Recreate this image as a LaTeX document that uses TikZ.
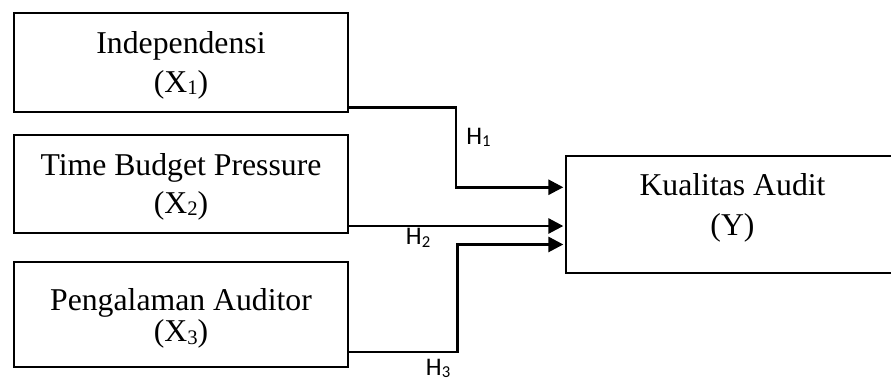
\documentclass[tikz,border=0pt]{standalone}
\usepackage{fontspec}
\setmainfont{Liberation Serif}
\newfontfamily\hfont{Carlito}
\usetikzlibrary{arrows.meta}
\newcommand{\xsub}[1]{\raisebox{-2pt}{\fontsize{15.5pt}{15.5pt}\selectfont #1}}
\newcommand{\hsubs}[1]{\raisebox{-2.2pt}{\fontsize{12.5pt}{12.5pt}\selectfont #1}}
\tikzset{
  box/.style={draw, line width=1.5pt, inner sep=0pt, minimum width=250.3pt},
  openbox/.style={line width=1.5pt},
  lbl/.style={font=\fontsize{23.8pt}{28pt}\selectfont, anchor=base, inner sep=0pt},
  hl/.style={font=\hfont\fontsize{19pt}{22pt}\selectfont, anchor=base west, inner sep=0pt},
  conn/.style={line width=2.1pt, -{Triangle[length=11.25pt,width=11.25pt]}}
}
\begin{document}
\begin{tikzpicture}[x=0.75pt,y=-0.75pt]
\useasboundingbox (0,0) rectangle (891,378);
\clip (0,0) rectangle (891,378);
% boxes
\node[box, minimum height=74.25pt] (b1) at (181,62.5) {};
\node[box, minimum height=73.5pt] (b2) at (181,184) {};
\node[box, minimum height=78.75pt] (b3) at (181,314.8) {};
\node[inner sep=0pt, minimum width=247.5pt, minimum height=87.4pt, anchor=west] (Y) at (566,214.2) {};
\draw[openbox] (Y.north east) -- (Y.north west) -- (Y.south west) -- (Y.south east);
% texts
\node[lbl] (t1a) at (181,53.3) {Independensi};
\node[lbl] (t1b) at (181,92.3) {(X\xsub{1})};
\node[lbl] (t2a) at (181,175) {Time Budget Pressure};
\node[lbl] (t2b) at (181,213) {(X\xsub{2})};
\node[lbl] (t3a) at (181,310) {Pengalaman Auditor};
\node[lbl] (t3b) at (181,341.7) {(X\xsub{3})};
\node[lbl] (tya) at (732.5,195) {Kualitas Audit};
\node[lbl] (tyb) at (732.5,235) {(Y)};
% connector coordinates
\coordinate (yw) at ([xshift=-2pt]Y.west);
\coordinate (s1) at ([yshift=4pt]b1.south east);
\coordinate (m1) at (456,150);
\coordinate (e1) at ([yshift=20.2pt]yw);
\coordinate (s2) at ([yshift=6pt]b2.south east);
\coordinate (s3) at ([yshift=12.2pt]b3.south east);
\coordinate (m3) at (457.3,300);
\coordinate (e3) at ([yshift=-22.7pt]yw);
\draw[conn] (s1) -| (m1) |- (e1);
\draw[conn] (s2) -- (yw |- s2);
\draw[conn] (s3) -| (m3) |- (e3);
% labels
\node[hl] (h1) at (466,144) {H\hsubs{1}};
\node[hl] (h2) at (405.7,244.3) {H\hsubs{2}};
\node[hl] (h3) at (425.7,375) {H\hsubs{3}};
\end{tikzpicture}
\end{document}
